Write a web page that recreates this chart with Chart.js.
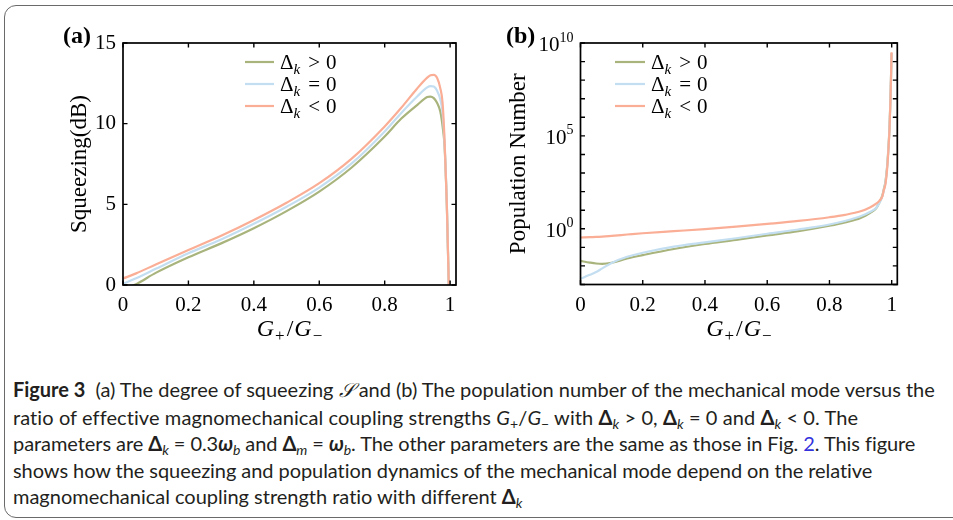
<!DOCTYPE html>
<html>
<head>
<meta charset="utf-8">
<script src="https://cdn.jsdelivr.net/npm/chart.js@4.4.1/dist/chart.umd.min.js"></script>
<style>
  html, body { margin:0; padding:0; background:#fff; }
  body { width:953px; height:520px; position:relative; overflow:hidden; }
  #frame { position:absolute; left:4px; top:5px; width:1000px; height:513px; border:1.3px solid #6a6a6a; border-radius:12px; box-sizing:border-box; }
  canvas { position:absolute; top:0; }
  #cA { left:0; }
  #cB { left:476px; }
  #caption { position:absolute; left:13px; top:376px; font-family:Lato, "Open Sans", sans-serif; font-size:20px; line-height:26.6px; color:#231f20; white-space:nowrap; }
  #caption .ln { display:block; }
  #caption b { font-weight:700; }
  .m { font-family:"Liberation Serif", serif; }
  .mi { font-style:italic; }
  sub { font-size:0.7em; vertical-align:-0.28em; line-height:0; }
  .lnk { color:#3333dd; }
</style>
</head>
<body>
<div id="frame"></div>
<canvas id="cA" width="480" height="350"></canvas>
<canvas id="cB" width="477" height="350"></canvas>
<div id="caption">
<span class="ln"><b>Figure 3</b>&nbsp; (a) The degree of squeezing <span class="m mi">𝒮</span> and (b) The population number of the mechanical mode versus the</span>
<span class="ln">ratio of effective magnomechanical coupling strengths <i>G</i><sub>+</sub>/<i>G</i><sub>−</sub> with <b>Δ</b><sub><i>k</i></sub> &gt; 0, <b>Δ</b><sub><i>k</i></sub> = 0 and <b>Δ</b><sub><i>k</i></sub> &lt; 0. The</span>
<span class="ln">parameters are <b>Δ</b><sub><i>k</i></sub> = 0.3<b><i>ω</i></b><sub><i>b</i></sub> and <b>Δ</b><sub><i>m</i></sub> = <b><i>ω</i></b><sub><i>b</i></sub>. The other parameters are the same as those in Fig. <span class="lnk">2</span>. This figure</span>
<span class="ln">shows how the squeezing and population dynamics of the mechanical mode depend on the relative</span>
<span class="ln">magnomechanical coupling strength ratio with different <b>Δ</b><sub><i>k</i></sub></span>
</div>
<script>
// ---------------- data ----------------
const seriesNames = ['Δk > 0', 'Δk = 0', 'Δk < 0'];
const seriesColors = ['#a8b47c', '#c3def0', '#fbae96'];

// panel (a): squeezing (dB) vs G+/G-
const xA = [0, 0.04, 0.1, 0.2, 0.3, 0.4, 0.5, 0.6, 0.7, 0.8, 0.85, 0.9, 0.93, 0.94, 0.95, 0.96, 0.97, 0.977, 0.983, 0.99, 0.996, 0.999];
const sqPos  = [-0.3, 0.05, 0.75, 1.72, 2.58, 3.52, 4.58, 5.79, 7.3, 9.2, 10.3, 11.17, 11.65, 11.68, 11.58, 11.3, 10.75, 9.83, 8.6, 4.9, 0.0, -3];
const sqZero = [0.08, 0.42, 1.0, 1.97, 2.82, 3.79, 4.85, 6.04, 7.55, 9.52, 10.65, 11.7, 12.25, 12.33, 12.3, 12.05, 11.5, 10.66, 8.8, 5.0, 0.0, -3];
const sqNeg  = [0.4, 0.72, 1.27, 2.17, 3.05, 4.03, 5.1, 6.31, 7.85, 9.83, 10.97, 12.2, 12.85, 13.0, 13.03, 12.85, 12.2, 11.28, 9.0, 5.0, 0.0, -3];
const xTicksA = [0, 0.2, 0.4, 0.6, 0.8, 1];
const xTickLabels = ['0', '0.2', '0.4', '0.6', '0.8', '1'];
const yTicksA = [0, 5, 10, 15];
const yTickLabelsA = ['0', '5', '10', '15'];

// panel (b): population number vs G+/G-
const xB = [0, 0.03, 0.05, 0.07, 0.1, 0.15, 0.2, 0.3, 0.4, 0.5, 0.6, 0.7, 0.8, 0.85, 0.9, 0.93, 0.95, 0.96, 0.97, 0.975, 0.98, 0.985, 0.99, 0.993, 0.996, 0.998, 0.9995];
const popPos  = [0.0186, 0.0151, 0.0135, 0.0129, 0.0148, 0.0251, 0.038, 0.0813, 0.151, 0.251, 0.437, 0.741, 1.45, 2.19, 3.8, 7.08, 12.6, 25.1, 63.1, 141, 355, 1995, 3.16e4, 3.16e5, 1.0e7, 2.0e8, 2.82e9];
const popZero = [0.00204, 0.00331, 0.00468, 0.00741, 0.0145, 0.0309, 0.0513, 0.11, 0.186, 0.309, 0.537, 0.912, 1.7, 2.63, 4.68, 7.94, 13.2, 24.0, 56.2, 126, 316, 1778, 2.82e4, 2.82e5, 8.91e6, 2.0e8, 2.82e9];
const popNeg  = [0.339, 0.355, 0.363, 0.38, 0.417, 0.49, 0.575, 0.741, 0.955, 1.29, 1.82, 2.63, 4.17, 5.62, 8.71, 14.1, 22.4, 31.6, 56.2, 126, 251, 1413, 2.51e4, 2.51e5, 7.94e6, 2.0e8, 3.16e9];
const yTickDecadesB = [-3, -2, -1, 0, 1, 2, 3, 4, 5, 6, 7, 8, 9, 10];
const yLabelPowersB = ['0', '5', '10'];

// ---------------- helpers ----------------
const SERIF = '"Liberation Serif", "Times New Roman", serif';
function pts(xs, ys) { return xs.map((x, i) => ({ x: x, y: ys[i] })); }

function drawRuns(ctx, runs, x, y, align) {
  let w = 0;
  runs.forEach(r => { ctx.font = r.f; r.w = ctx.measureText(r.t).width; w += (r.pre || 0) + r.w; });
  let cx = align === 'center' ? x - w / 2 : (align === 'right' ? x - w : x);
  runs.forEach(r => { cx += (r.pre || 0); ctx.font = r.f; ctx.fillText(r.t, cx, y + (r.dy || 0)); cx += r.w; });
  return w;
}

const LF = '21px ' + SERIF, LK = 'italic 15px ' + SERIF;
const legendRuns = [
  [{t:'Δ', f:LF}, {t:'k', f:LK, dy:5}, {t:'>', f:LF, pre:8}, {t:'0', f:LF, pre:6}],
  [{t:'Δ', f:LF}, {t:'k', f:LK, dy:5}, {t:'=', f:LF, pre:8}, {t:'0', f:LF, pre:6}],
  [{t:'Δ', f:LF}, {t:'k', f:LK, dy:5}, {t:'<', f:LF, pre:8}, {t:'0', f:LF, pre:6}]
];
const xTitleRuns = [
  {t:'G', f:'italic 24px ' + SERIF}, {t:'+', f:'17px ' + SERIF, dy:5, pre:1},
  {t:'/', f:'24px ' + SERIF, pre:2}, {t:'G', f:'italic 24px ' + SERIF, pre:1}, {t:'−', f:'17px ' + SERIF, dy:5, pre:1}
];

function makeDecor(cfg) {
  return {
    id: 'decor' + cfg.id,
    afterDraw(chart) {
      const ctx = chart.ctx, a = chart.chartArea, xs = chart.scales.x, ys = chart.scales.y;
      ctx.save();
      ctx.fillStyle = '#000'; ctx.strokeStyle = '#000';
      // inward ticks on all four sides
      ctx.lineWidth = 1.4;
      const tl = 4.5;
      ctx.beginPath();
      xs.ticks.forEach(t => {
        const px = xs.getPixelForValue(t.value);
        ctx.moveTo(px, a.bottom); ctx.lineTo(px, a.bottom - tl);
        ctx.moveTo(px, a.top); ctx.lineTo(px, a.top + tl);
      });
      ys.ticks.forEach(t => {
        const py = ys.getPixelForValue(t.value);
        ctx.moveTo(a.left, py); ctx.lineTo(a.left + tl, py);
        ctx.moveTo(a.right, py); ctx.lineTo(a.right - tl, py);
      });
      ctx.stroke();
      // box
      ctx.lineWidth = 1.7;
      ctx.strokeRect(a.left, a.top, a.right - a.left, a.bottom - a.top);
      // log tick labels
      if (cfg.logLabels) {
        ctx.textBaseline = 'alphabetic';
        cfg.logLabels.forEach(p => {
          const py = ys.getPixelForValue(Math.pow(10, Number(p)));
          ctx.font = '14px ' + SERIF;
          const wp = ctx.measureText(p).width;
          ctx.fillText(p, a.left - 7 - wp, py - 1.5);
          ctx.font = '21px ' + SERIF;
          const wb = ctx.measureText('10').width;
          ctx.fillText('10', a.left - 7 - wp - wb, py + 8);
        });
      }
      // y-axis title
      ctx.save();
      ctx.translate(cfg.yTitleX, (a.top + a.bottom) / 2);
      ctx.rotate(-Math.PI / 2);
      ctx.font = '23px ' + SERIF; ctx.textAlign = 'center'; ctx.textBaseline = 'middle';
      ctx.fillText(cfg.yTitle, 0, 0);
      ctx.restore();
      // x-axis title
      ctx.textAlign = 'left'; ctx.textBaseline = 'alphabetic';
      drawRuns(ctx, xTitleRuns, (a.left + a.right) / 2, cfg.xTitleY, 'center');
      // panel label
      ctx.font = 'bold 24px ' + SERIF;
      ctx.fillText(cfg.panel, cfg.panelX, 43);
      // legend
      chart.data.datasets.forEach((ds, i) => {
        const ly = cfg.legY[i];
        ctx.strokeStyle = ds.borderColor; ctx.lineWidth = 2.2;
        ctx.beginPath(); ctx.moveTo(cfg.legX0, ly); ctx.lineTo(cfg.legX1, ly); ctx.stroke();
        ctx.fillStyle = '#000';
        drawRuns(ctx, legendRuns[i], cfg.legX1 + 6, ly + 7, 'left');
      });
      ctx.restore();
    }
  };
}

function datasets(xs, a, b, c) {
  return [a, b, c].map((ys, i) => ({
    label: seriesNames[i], data: pts(xs, ys), borderColor: seriesColors[i],
    borderWidth: 2.2, pointRadius: 0, fill: false, order: 3 - i,
    cubicInterpolationMode: 'monotone'
  }));
}

const common = {
  responsive: false, animation: false, devicePixelRatio: 1,
  plugins: { legend: { display: false }, tooltip: { enabled: false } },
  events: []
};
const TICKFONT = { family: SERIF, size: 21 };

// ---------------- panel (a) ----------------
new Chart(document.getElementById('cA'), {
  type: 'line',
  data: { datasets: datasets(xA, sqPos, sqZero, sqNeg) },
  options: Object.assign({}, common, {
    layout: { padding: { top: 43, right: 24, left: 0, bottom: 0 } },
    scales: {
      x: {
        type: 'linear', min: 0, max: 1.018,
        grid: { display: false, drawTicks: false }, border: { display: false },
        ticks: { font: TICKFONT, color: '#000', padding: 8, maxRotation: 0, callback: (v, i) => xTickLabels[i] },
        afterBuildTicks: s => { s.ticks = xTicksA.map(v => ({ value: v })); },
        afterFit: s => { s.height = 65; }
      },
      y: {
        type: 'linear', min: 0, max: 15,
        grid: { display: false, drawTicks: false }, border: { display: false },
        ticks: { font: TICKFONT, color: '#000', padding: 7, callback: (v, i) => yTickLabelsA[i] },
        afterBuildTicks: s => { s.ticks = yTicksA.map(v => ({ value: v })); },
        afterFit: s => { s.width = 123; }
      }
    }
  }),
  plugins: [makeDecor({ id: 'A', yTitle: 'Squeezing(dB)', yTitleX: 80, xTitleY: 336, panel: '(a)', panelX: 63,
    legX0: 245, legX1: 274, legY: [62, 84, 106] })]
});

// ---------------- panel (b) ----------------
new Chart(document.getElementById('cB'), {
  type: 'line',
  data: { datasets: datasets(xB, popPos, popZero, popNeg) },
  options: Object.assign({}, common, {
    layout: { padding: { top: 43, right: 55.7, left: 0, bottom: 0 } },
    scales: {
      x: {
        type: 'linear', min: 0, max: 1.018,
        grid: { display: false, drawTicks: false }, border: { display: false },
        ticks: { font: TICKFONT, color: '#000', padding: 8, maxRotation: 0, callback: (v, i) => xTickLabels[i] },
        afterBuildTicks: s => { s.ticks = xTicksA.map(v => ({ value: v })); },
        afterFit: s => { s.height = 65.5; }
      },
      y: {
        type: 'logarithmic', min: 1e-3, max: 1e10,
        grid: { display: false, drawTicks: false }, border: { display: false },
        ticks: { display: false },
        afterBuildTicks: s => { s.ticks = yTickDecadesB.map(p => ({ value: Math.pow(10, p) })); },
        afterFit: s => { s.width = 104.5; }
      }
    }
  }),
  plugins: [makeDecor({ id: 'B', yTitle: 'Population Number', yTitleX: 43, xTitleY: 336, panel: '(b)', panelX: 30, logLabels: yLabelPowersB,
    legX0: 139, legX1: 169, legY: [62, 84, 106] })]
});

// fit caption lines to their measured widths in the reference
const lineEnds = [935, 858, 915, 873, 522];
document.querySelectorAll('#caption .ln').forEach((el, i) => {
  el.style.display = 'inline-block';
  const w = el.getBoundingClientRect().width;
  const target = lineEnds[i] - 13;
  const n = el.textContent.length;
  el.style.letterSpacing = ((target - w) / n).toFixed(3) + 'px';
  el.style.display = 'block';
});
</script>
</body>
</html>
